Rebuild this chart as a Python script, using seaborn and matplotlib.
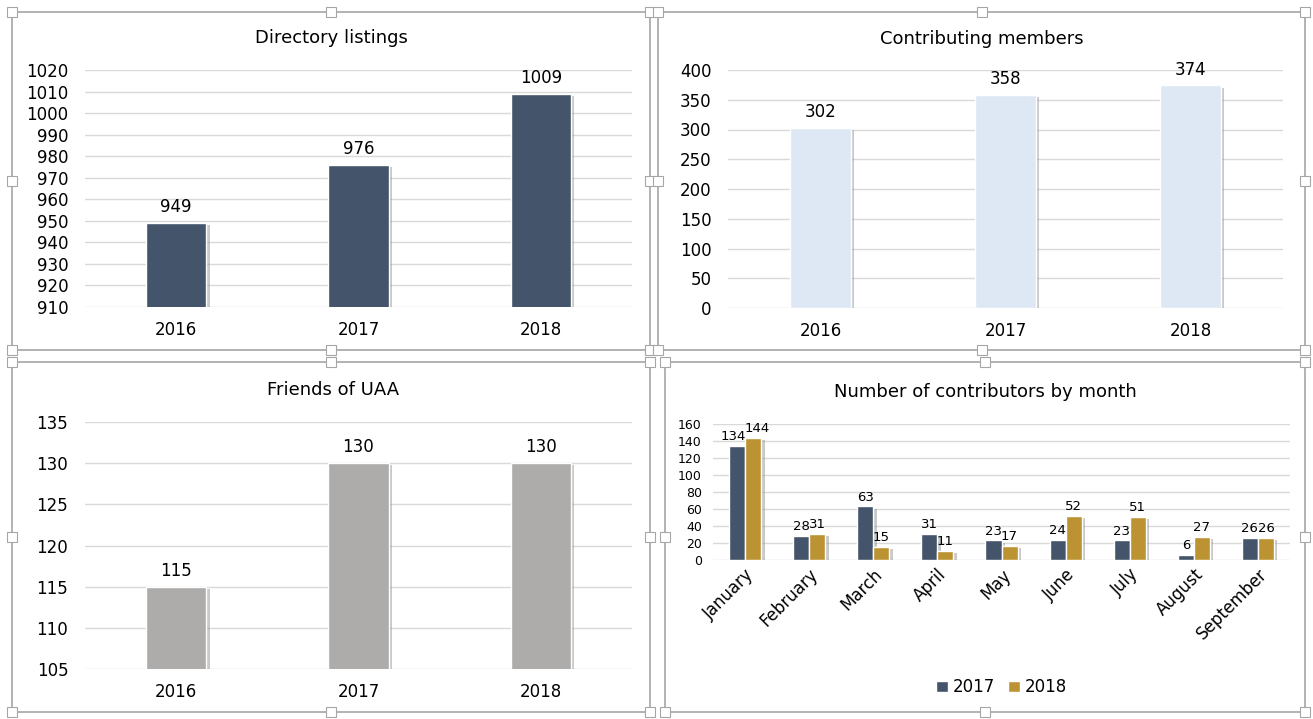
import pandas as pd
import matplotlib.pyplot as plt
import matplotlib.patheffects as pe
from matplotlib.patches import Rectangle
import seaborn as sns

# Data
years = ["2016", "2017", "2018"]
directory_listings = [949, 976, 1009]
contributing_members = [302, 358, 374]
friends_of_uaa = [115, 130, 130]

months = ["January", "February", "March", "April", "May", "June",
          "July", "August", "September"]
contrib_2017 = [134, 28, 63, 31, 23, 24, 23, 6, 26]
contrib_2018 = [144, 31, 15, 11, 17, 52, 51, 27, 26]

DARK = "#44546A"
LIGHT = "#DEE8F4"
GREY = "#ADACAA"
GOLD = "#BC9333"
GRID = "#D9D9D9"

W, H = 1313, 719
sns.set_style("white")
plt.rcParams['font.family'] = ['DejaVu Sans']
plt.rcParams['text.color'] = 'black'
plt.rcParams['xtick.color'] = 'black'
plt.rcParams['ytick.color'] = 'black'

fig = plt.figure(figsize=(W / 100, H / 100), dpi=100)


def rect(left, top, right, bottom):
    return [left / W, 1 - bottom / H, (right - left) / W, (bottom - top) / H]


shadow = [pe.SimplePatchShadow(offset=(2.5, -1.5), shadow_rgbFace="#888888", alpha=0.45), pe.Normal()]

# panel frames + handles
panels = [(12, 12, 650, 350), (658, 12, 1305, 350), (12, 362, 650, 712), (665, 362, 1305, 712)]
for (l, t, r, b) in panels:
    fig.patches.append(Rectangle((l / W, 1 - b / H), (r - l) / W, (b - t) / H,
                                 transform=fig.transFigure, fill=False,
                                 edgecolor="#A6A6A6", lw=1.2))
    for hx in (l, (l + r) / 2, r):
        for hy in (t, (t + b) / 2, b):
            if hx == (l + r) / 2 and hy == (t + b) / 2:
                continue
            fig.patches.append(Rectangle(((hx - 5) / W, 1 - (hy + 5) / H), 10 / W, 10 / H,
                                         transform=fig.transFigure, facecolor="white",
                                         edgecolor="#A6A6A6", lw=0.8, zorder=5))


def style_axes(ax, ylim, step, fs=12):
    ax.set_ylim(*ylim)
    ax.set_yticks(range(ylim[0], ylim[1] + 1, step))
    ax.yaxis.grid(True, color=GRID, lw=1)
    ax.set_axisbelow(True)
    for s in ax.spines.values():
        s.set_visible(False)
    ax.tick_params(axis="y", length=0, pad=12, labelsize=fs)
    ax.tick_params(axis="x", length=0, pad=10, labelsize=12)
    ax.set_xlabel("")
    ax.set_ylabel("")
    ax.patch.set_alpha(0)


def simple_panel(pos, values, color, ylim, step, title, title_xy):
    ax = fig.add_axes(rect(*pos))
    df = pd.DataFrame({"Year": years, "Value": values})
    sns.barplot(data=df, x="Year", y="Value", color=color, width=0.33,
                saturation=1, ax=ax)
    for p in ax.patches:
        p.set_path_effects(shadow)
    ax.set_xlim(-0.5, 2.5)
    style_axes(ax, ylim, step)
    for c in ax.containers:
        ax.bar_label(c, padding=5, fontsize=12)
    fig.text(title_xy[0] / W, 1 - title_xy[1] / H, title, ha="center", va="center", fontsize=13)
    return ax


simple_panel((85, 70, 632, 307), directory_listings, DARK, (910, 1020), 10,
             "Directory listings", (331, 38))
simple_panel((728, 70, 1283, 308), contributing_members, LIGHT, (0, 400), 50,
             "Contributing members", (982, 39))
simple_panel((85, 422, 632, 669), friends_of_uaa, GREY, (105, 135), 5,
             "Friends of UAA", (333, 390))

# monthly contributors
ax = fig.add_axes(rect(713, 424, 1290, 560))
df = pd.DataFrame({
    "Month": months * 2,
    "Count": contrib_2017 + contrib_2018,
    "Year": ["2017"] * len(months) + ["2018"] * len(months),
})
sns.barplot(data=df, x="Month", y="Count", hue="Year", palette=[DARK, GOLD],
            width=0.5, saturation=1, gap=0, ax=ax)
ax.set_xlim(-0.5, 8.5)
style_axes(ax, (0, 160), 20, fs=9)
ax.tick_params(axis="y", pad=8)
lab17 = ax.bar_label(ax.containers[0], padding=2, fontsize=9.5)
lab18 = ax.bar_label(ax.containers[1], padding=2, fontsize=9.5)
# January labels sit close together; nudge them apart a little
lab17[0].xyann = (-3, 2)
lab18[0].xyann = (3, 2)
plt.setp(ax.get_xticklabels(), rotation=45, ha="right", rotation_mode="anchor", fontsize=12)
ax.tick_params(axis="x", pad=4)
ax.legend(loc="upper center", bbox_to_anchor=(0.5, -0.76), ncol=2, frameon=False,
          fontsize=12, handlelength=0.7, handleheight=0.7, handletextpad=0.3,
          columnspacing=0.8)
for p in ax.patches:
    p.set_path_effects(shadow)
fig.text(985 / W, 1 - 392 / H, "Number of contributors by month", ha="center",
         va="center", fontsize=13)

plt.savefig("out.png", dpi=100)
plt.close()
